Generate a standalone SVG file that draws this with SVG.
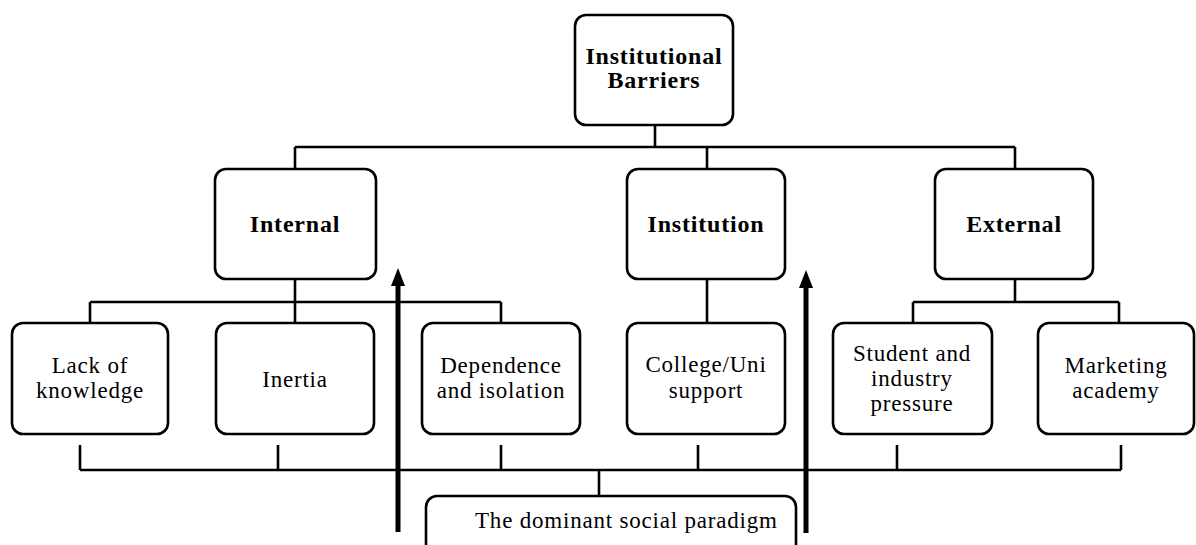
<svg xmlns="http://www.w3.org/2000/svg" width="1196" height="545" viewBox="0 0 1196 545">
<defs>
<style>
.box{fill:#fff;stroke:#000;stroke-width:2.6}
.ln{fill:none;stroke:#000;stroke-width:2.6}
.arr{fill:none;stroke:#000;stroke-width:5}
.head{fill:#000}
.t{font-family:"Liberation Serif","Times New Roman",serif;font-size:23px;letter-spacing:0.8px;fill:#000;text-anchor:middle}
.b{font-weight:bold;font-size:24px}
</style>
</defs>
<rect width="1196" height="545" fill="#fff"/>
<g id="connectors">
<path class="ln" d="M655,125 V147 M295,147 H1015 M295,147 V170 M707,147 V170 M1015,147 V170"/>
<path class="ln" d="M295,279 V302 M90,302 H501 M90,302 V323 M295,302 V323 M501,302 V323"/>
<path class="ln" d="M707,279 V323"/>
<path class="ln" d="M1015,279 V302 M913,302 H1119 M913,302 V323 M1119,302 V323"/>
<path class="ln" d="M80,445 V470 M278,445 V470 M501,445 V470 M698,445 V470 M897,445 V470 M1121,445 V470 M80,470 H1121 M599,470 V496"/>
</g>
<g id="n-barriers"><rect class="box" x="575" y="15" width="158" height="110" rx="11"/>
<text class="t b" x="654" y="64">Institutional</text><text class="t b" x="654" y="88">Barriers</text></g>
<g id="n-internal"><rect class="box" x="215" y="169" width="161" height="110" rx="11"/>
<text class="t b" x="295" y="232">Internal</text></g>
<g id="n-institution"><rect class="box" x="627" y="169" width="158" height="110" rx="11"/>
<text class="t b" x="706" y="232">Institution</text></g>
<g id="n-external"><rect class="box" x="935" y="169" width="158" height="110" rx="11"/>
<text class="t b" x="1014" y="232">External</text></g>
<g id="n-lack"><rect class="box" x="12" y="323" width="156" height="111" rx="11"/>
<text class="t" x="90" y="373">Lack of</text><text class="t" x="90" y="398">knowledge</text></g>
<g id="n-inertia"><rect class="box" x="216" y="323" width="158" height="111" rx="11"/>
<text class="t" x="295" y="387">Inertia</text></g>
<g id="n-dependence"><rect class="box" x="422" y="323" width="158" height="111" rx="11"/>
<text class="t" x="501" y="373">Dependence</text><text class="t" x="501" y="398">and isolation</text></g>
<g id="n-college"><rect class="box" x="627" y="323" width="158" height="111" rx="11"/>
<text class="t" x="706" y="372">College/Uni</text><text class="t" x="706" y="398">support</text></g>
<g id="n-student"><rect class="box" x="833" y="323" width="159" height="111" rx="11"/>
<text class="t" x="912" y="361">Student and</text><text class="t" x="912" y="386">industry</text><text class="t" x="912" y="411">pressure</text></g>
<g id="n-marketing"><rect class="box" x="1038" y="323" width="156" height="111" rx="11"/>
<text class="t" x="1116" y="373">Marketing</text><text class="t" x="1116" y="398">academy</text></g>
<g id="n-paradigm"><rect class="box" x="426" y="496" width="370" height="70" rx="11"/>
<text class="t" x="475" y="528" style="text-anchor:start">The dominant social paradigm</text></g>
<g id="arrows">
<path class="arr" d="M398,532 V282"/>
<polygon class="head" points="398,268 405,286 391,286"/>
<path class="arr" d="M806,533 V284"/>
<polygon class="head" points="806,270 813,288 799,288"/>
</g>
</svg>
